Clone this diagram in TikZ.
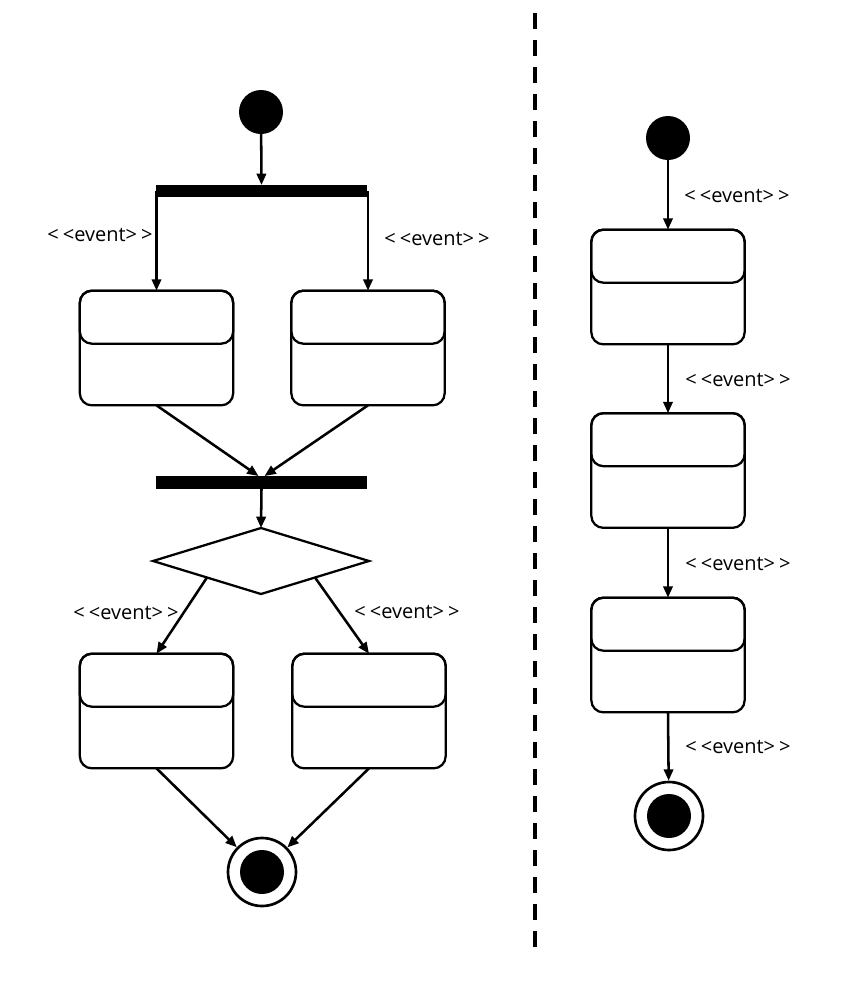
\documentclass[tikz,border=0pt]{standalone}
\usepackage{fontspec}
\setmainfont{Open Sans}
\usetikzlibrary{shapes.geometric,arrows.meta}
\newcommand{\evtlabel}{<\kern3pt<event>\kern3pt>}
\begin{document}
\begin{tikzpicture}[x=0.75pt,y=-0.75pt,line width=1.9pt,
  arr/.style={-{Triangle[length=8.5pt,width=7pt]}},
  statebox/.style={draw,line width=1.7pt,rounded corners=9pt,minimum width=115pt,minimum height=86pt,inner sep=0pt,outer sep=0pt},
  compartment/.style={draw,line width=1.7pt,rounded corners=9pt},
  initstate/.style={circle,fill=black,minimum size=33pt,inner sep=0pt,outer sep=0pt},
  finalstate/.style={circle,draw,line width=2pt,fill=white,minimum size=51pt,inner sep=0pt},
  syncbar/.style={rectangle,fill=black,minimum width=158.25pt,inner sep=0pt,outer sep=0pt},
  decision/.style={diamond,draw,line width=1.7pt,minimum width=162pt,minimum height=49.5pt,inner sep=0pt,outer sep=0pt},
  evt/.style={font=\fontsize{15}{18}\selectfont,inner sep=0pt}]
\useasboundingbox (0,0) rectangle (852,983);

% ---- left: fork / join with a decision ----
\node[initstate] (i1) at (261,112) {};
\node[syncbar,minimum height=9pt] (fork) at (261.5,191) {};
\node[statebox] (s1) at (156.5,348) {};
\node[statebox] (s2) at (368,348) {};
\node[syncbar,minimum height=9.75pt] (join) at (261.5,482.5) {};
\node[decision] (dec) at (261,561) {};
\node[statebox] (s3) at (156.5,711) {};
\node[statebox] (s4) at (369,711) {};
\node[finalstate] (f1) at (262,872) {};
\node[initstate] (f1dot) at (f1) {};

\node[evt] (e1) at (100,235) {\evtlabel};
\node[evt] (e2) at (437,239) {\evtlabel};
\node[evt] (e3) at (126,613) {\evtlabel};
\node[evt] (e4) at (407,612) {\evtlabel};

\draw[arr] (i1) -- (fork.north);
\draw[arr] (fork.center -| s1.north) -- (s1.north);
\draw[arr] (fork.center -| s2.north) -- (s2.north);
\draw[arr] (s1.south) -- ([xshift=-2.25pt]join.north);
\draw[arr] (s2.south) -- ([xshift=2.25pt]join.north);
\draw[arr] (join.south) -- (dec.north);
\draw[arr] (dec.south west) -- (s3.north);
\draw[arr] (dec.south east) -- (s4.north);
\draw[arr] (s3.south) -- (f1);
\draw[arr] (s4.south) -- (f1);

% ---- separator ----
\coordinate (dtop) at (535,13);
\coordinate (dbot) at (535,953);
\draw[line width=3pt,dash pattern=on 12pt off 8.25pt] (dtop) -- (dbot);

% ---- right: simple sequence ----
\node[initstate] (i2) at (668,138) {};
\node[statebox] (s5) at (668,287) {};
\node[statebox] (s6) at (668,470.5) {};
\node[statebox] (s7) at (668,655) {};
\node[finalstate] (f2) at (669,816) {};
\node[initstate] (f2dot) at (f2) {};

\node[evt] (e5) at (737,196) {\evtlabel};
\node[evt] (e6) at (738,380) {\evtlabel};
\node[evt] (e7) at (738,564) {\evtlabel};
\node[evt] (e8) at (738,747) {\evtlabel};

\draw[arr] (i2) -- (s5.north);
\draw[arr] (s5.south) -- (s6.north);
\draw[arr] (s6.south) -- (s7.north);
\draw[arr] (s7.south) -- (f2);

% upper compartments of the state boxes
\foreach \s in {s1,s2,s3,s4,s5,s6,s7}
  \draw[compartment] (\s.north west) rectangle ([yshift=-39.75pt]\s.north east);
\end{tikzpicture}
\end{document}
